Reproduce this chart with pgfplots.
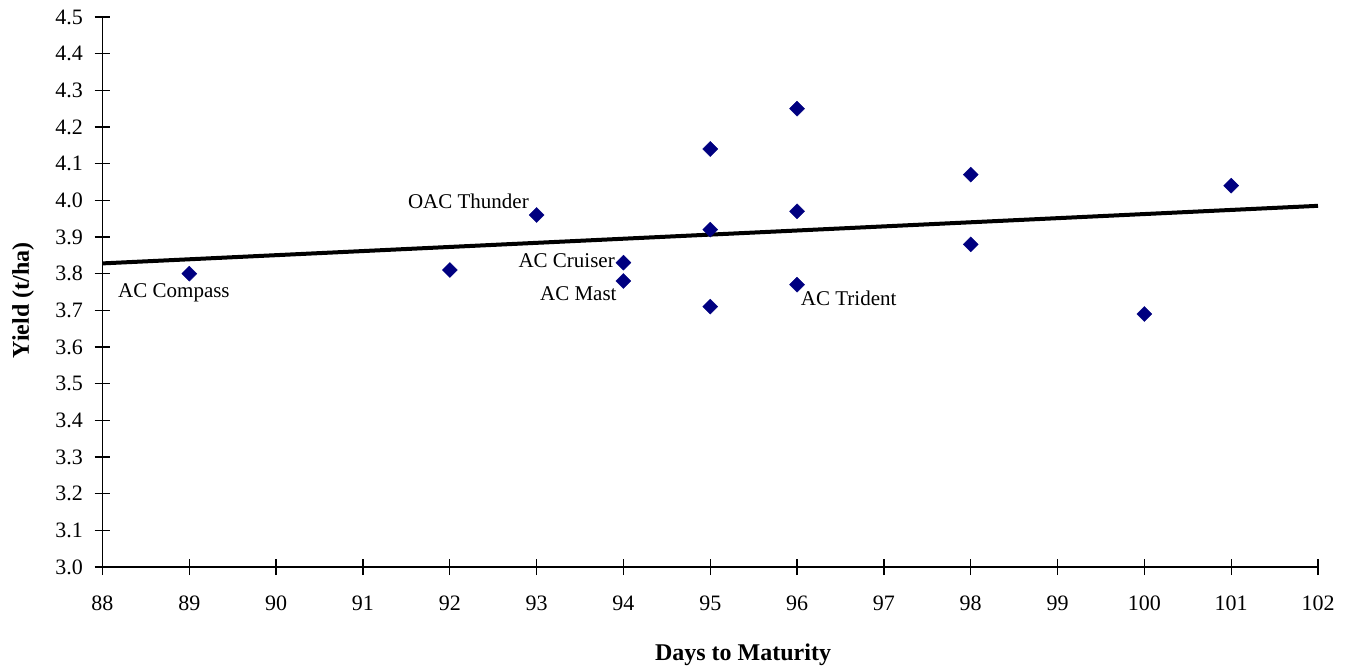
\documentclass[border=0pt]{standalone}
\usepackage{pgfplots}
\pgfplotsset{compat=1.18}
\usepackage{fontspec}
\setmainfont{Liberation Serif}
\definecolor{navy}{RGB}{0,0,128}
\begin{document}
\begin{tikzpicture}[x=1pt,y=1pt]
\useasboundingbox (-102.5,-104) rectangle (1253.5,567);
\begin{axis}[
  at={(0,0)}, anchor=south west,
  scale only axis, width=1215.5pt, height=550pt,
  xmin=88, xmax=102, ymin=3.0, ymax=4.5,
  xtick={88,89,...,102},
  ytick={3.0,3.1,...,4.5},
  yticklabel style={/pgf/number format/fixed,/pgf/number format/fixed zerofill,/pgf/number format/precision=1, xshift=-8pt},
  /pgf/number format/assume math mode=true,
  axis x line=bottom, axis y line=left,
  axis line style={line width=1.3pt,-},
  tick style={line width=1.3pt,black},
  tickpos=left, tick align=center,
  major tick length=16pt,
  ticklabel style={font=\fontsize{22}{26}\selectfont},
  xticklabel style={yshift=-17pt},
  xlabel={\textbf{Days to Maturity}},
  ylabel={\textbf{Yield (t/ha)}},
  label style={font=\fontsize{24}{28}\selectfont},
  xlabel style={at={(axis description cs:0.527,0)}, anchor=center, yshift=-88pt},
  ylabel style={at={(axis description cs:-0.0654,0.485)}, anchor=center},
  clip=false,
]
\addplot[black, line width=4pt] coordinates {(88,3.828) (102,3.985)};
\addplot[only marks, mark=square*, mark size=5.3pt, mark options={rotate=45, fill=navy, draw=navy}] coordinates {
(89,3.80) (92,3.81) (93,3.96) (94,3.83) (94,3.78)
(95,4.14) (95,3.92) (95,3.71)
(96,4.25) (96,3.97) (96,3.77)
(98,4.07) (98,3.88) (100,3.69) (101,4.04)};
\begin{scope}[every node/.style={font=\fontsize{21}{25}\selectfont, inner sep=0pt}]
\node[anchor=base east] at (axis cs:92.912,3.978) {OAC Thunder};
\node[anchor=base west] at (axis cs:88.179,3.736) {AC Compass};
\node[anchor=base east] at (axis cs:93.903,3.8155) {AC Cruiser};
\node[anchor=base east] at (axis cs:93.923,3.7255) {AC Mast};
\node[anchor=base west] at (axis cs:96.042,3.7145) {AC Trident};
\end{scope}
\end{axis}
\end{tikzpicture}
\end{document}
